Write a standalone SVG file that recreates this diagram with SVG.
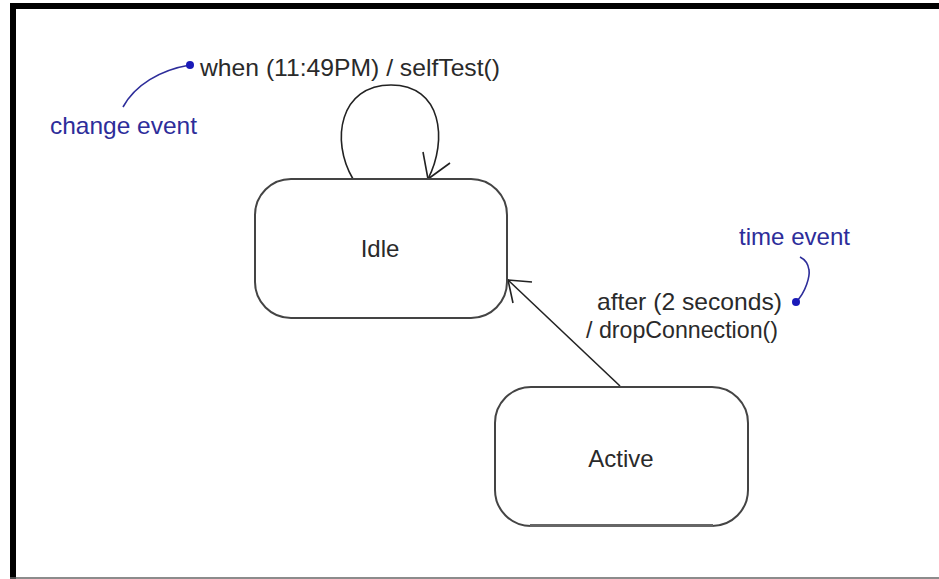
<svg xmlns="http://www.w3.org/2000/svg" width="939" height="579" viewBox="0 0 939 579">
<style>
.lbl{font-family:"Liberation Sans",Arial,sans-serif;font-size:24px;fill:#2a2a2a}
.note{font-family:"Liberation Sans",Arial,sans-serif;font-size:24px;fill:#2d2d9a}
.state{fill:#fff;stroke:#444;stroke-width:2}
.edge{fill:none;stroke:#222;stroke-width:1.6}
.anno{fill:none;stroke:#2d2d9a;stroke-width:1.6}
</style>
<rect x="0" y="0" width="939" height="579" fill="#fff"/>
<g id="frame">
<rect x="10" y="3" width="929" height="6" fill="#000"/>
<rect x="10" y="3" width="6" height="576" fill="#000"/>
<line x1="10" y1="578" x2="939" y2="578" stroke="#666" stroke-width="1.5"/>
</g>
<g id="connectors">
<path class="edge" d="M353 179 C330 140 340 85 391 85 C442 85 448 140 428 179"/>
<path class="edge" d="M423 152 L428 179 L450 163"/>
<path class="edge" d="M620 386 L508 280"/>
<path class="edge" d="M532 282 L508 280 L513 303"/>
</g>
<g id="idle">
<rect class="state" x="255" y="179" width="252" height="139" rx="36"/>
<text class="lbl" x="380" y="257" text-anchor="middle">Idle</text>
</g>
<g id="active">
<rect class="state" x="495" y="387" width="253" height="139" rx="36"/>
<line x1="530" y1="525.5" x2="713" y2="525.5" stroke="#666" stroke-width="3"/>
<text class="lbl" x="621" y="467" text-anchor="middle">Active</text>
</g>
<g id="self-label">
<text class="lbl" x="200" y="76" textLength="300" lengthAdjust="spacingAndGlyphs">when (11:49PM) / selfTest()</text>
</g>
<g id="change-event">
<path class="anno" d="M190 65 C160 70 135 85 123 107"/>
<circle cx="190" cy="65" r="4" fill="#1a1ab8"/>
<text class="note" x="50" y="134" textLength="147" lengthAdjust="spacingAndGlyphs">change event</text>
</g>
<g id="transition-label">
<text class="lbl" x="597" y="310" textLength="185" lengthAdjust="spacingAndGlyphs">after (2 seconds)</text>
<text class="lbl" x="586" y="338" textLength="192" lengthAdjust="spacingAndGlyphs">/ dropConnection()</text>
</g>
<g id="time-event">
<path class="anno" d="M796 302 C806 292 810 276 809 270 C808 262 804 259 800 257"/>
<circle cx="796" cy="302" r="4" fill="#1a1ab8"/>
<text class="note" x="739" y="245" textLength="111" lengthAdjust="spacingAndGlyphs">time event</text>
</g>
</svg>
